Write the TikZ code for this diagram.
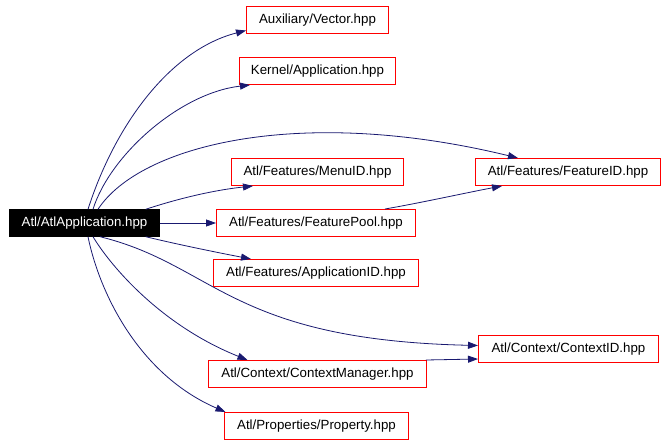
\documentclass[tikz,border=0pt]{standalone}
\usepackage{fontspec}
\setmainfont{Liberation Sans}
\usetikzlibrary{arrows.meta}
\definecolor{edgecol}{HTML}{191970}
\definecolor{boxred}{HTML}{FF0000}
\tikzset{
  filebox/.style={draw=boxred, line width=1pt, inner sep=0pt, minimum height=27pt, font=\fontsize{13.3}{15}\selectfont},
  rootbox/.style={draw=black, fill=black, text=white, inner sep=0pt, minimum height=27pt, font=\fontsize{13.3}{15}\selectfont},
  dep/.style={draw=edgecol, line width=0.8pt, -{Triangle[length=10pt,width=7pt]}},
}
\begin{document}
\begin{tikzpicture}[x=1pt,y=1pt]
\useasboundingbox[fill=white] (0,0) rectangle (667,445);
% nodes
\node[rootbox, minimum width=150pt] (root) at (84.5,222) {Atl/AtlApplication.hpp};
\node[filebox, minimum width=142pt] (vector) at (317.5,425) {Auxiliary/Vector.hpp};
\node[filebox, minimum width=156pt] (kernel) at (317.5,374) {Kernel/Application.hpp};
\node[filebox, minimum width=185pt] (featureid) at (568,273) {Atl/Features/FeatureID.hpp};
\node[filebox, minimum width=172pt] (menuid) at (317.5,273) {Atl/Features/MenuID.hpp};
\node[filebox, minimum width=199pt] (featurepool) at (316,222) {Atl/Features/FeaturePool.hpp};
\node[filebox, minimum width=205pt] (appid) at (316,172) {Atl/Features/ApplicationID.hpp};
\node[filebox, minimum width=180pt] (contextid) at (568.5,96) {Atl/Context/ContextID.hpp};
\node[filebox, minimum width=218pt] (contextmgr) at (317.5,71) {Atl/Context/ContextManager.hpp};
\node[filebox, minimum width=184pt] (property) at (316.5,19) {Atl/Properties/Property.hpp};
% edges
\draw[dep] ([xshift=3.5pt]root.north) .. controls (115,320) and (170,395) .. ([yshift=3.5pt]vector.south west);
\draw[dep] ([xshift=8.5pt]root.north) .. controls (110,290) and (180,352) .. ([xshift=11pt]kernel.south west);
\draw[dep] ([xshift=13.5pt]root.north) .. controls (140,300) and (300,340) .. ([xshift=-50pt]featureid.north);
\draw[dep] ([xshift=-14pt]root.north east) .. controls (180,247) and (215,255) .. ([xshift=22pt]menuid.south west);
\draw[dep] (root.east) -- (featurepool.west);
\draw[dep] ([xshift=-14pt]root.south east) .. controls (180,200) and (220,192) .. ([xshift=38pt]appid.north west);
\draw[dep] ([xshift=15.5pt]root.south) .. controls (215,180) and (230,105) .. ([yshift=3.5pt]contextid.west);
\draw[dep] ([xshift=8.5pt]root.south) .. controls (110,180) and (160,120) .. ([xshift=-70pt]contextmgr.north);
\draw[dep] ([xshift=3.5pt]root.south) .. controls (100,150) and (140,70) .. ([xshift=1.5pt]property.north west);
\draw[dep] ([xshift=-31pt]featurepool.north east) .. controls (420,242) and (465,252) .. ([xshift=-66pt]featureid.south);
\draw[dep] ([xshift=-1pt]contextmgr.north east) -- ([yshift=4pt]contextid.south west);
\end{tikzpicture}
\end{document}
